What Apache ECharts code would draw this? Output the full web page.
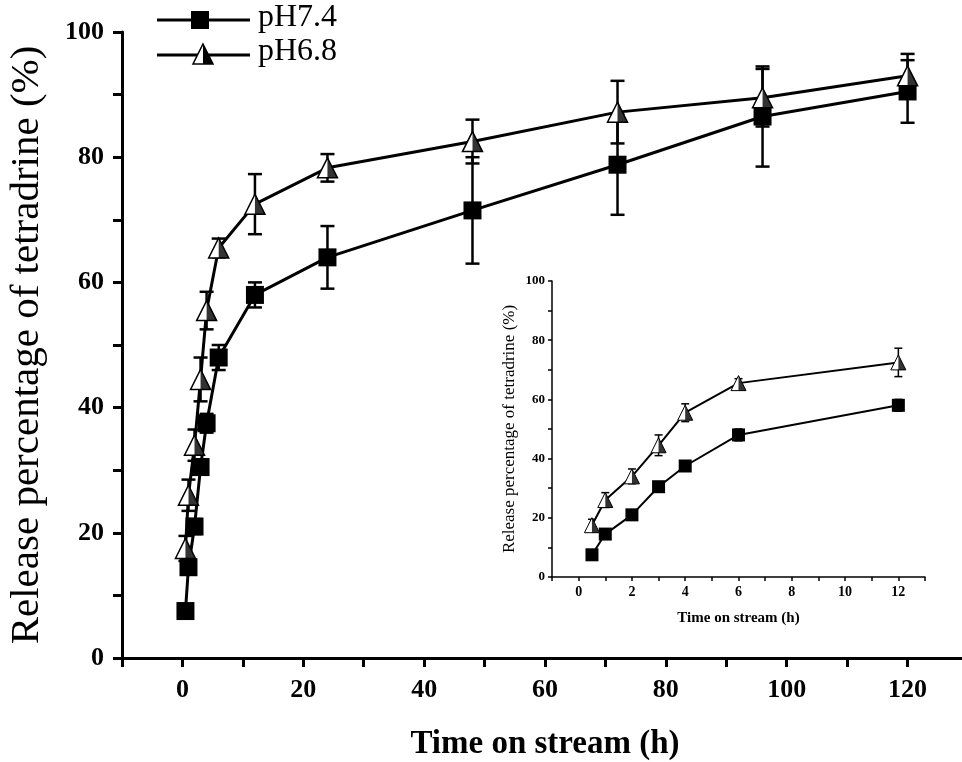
<!DOCTYPE html>
<html>
<head>
<meta charset="utf-8">
<script src="https://cdn.jsdelivr.net/npm/echarts@6/dist/echarts.min.js"></script>
<style>
html,body{margin:0;padding:0;background:#fff;}
#chart{width:962px;height:762px;}
</style>
</head>
<body>
<div id="chart"></div>
<script>
// ---- data ----
const timeH   = [0.5, 1, 2, 3, 4, 6, 12, 24, 48, 72, 96, 120];
const ph74    = [7.5, 14.5, 21, 30.5, 37.5, 48, 58, 64, 71.5, 78.8, 86.5, 90.5];
const ph74Err = [1, 1, 1.2, 1.2, 1.5, 2, 2, 5, 8.5, 8, 8, 5];
const ph68    = [17.5, 26, 34, 44.5, 55.5, 65.5, 72.5, 78.3, 82.5, 87.2, 89.5, 93];
const ph68Err = [2, 2.5, 2.5, 3.5, 3, 1.5, 4.8, 2.2, 3.5, 5, 4.6, 3.5];
const insetCount = 7; // inset shows points up to 12 h
const seriesNames = ['pH7.4', 'pH6.8'];
const yTitle = 'Release percentage of tetradrine (%)';
const xTitle = 'Time on stream (h)';

const SERIF = '"Liberation Serif", "DejaVu Serif", serif';
const TRI = 'path://M10,0L20,20L0,20Z';
const TRI_HALF = 'path://M0,20M10,0L20,20L10,20Z';

function pairs(xs, ys) { return xs.map((x, i) => [x, ys[i]]); }

function errSeries(gi, xs, ys, es, cap, lw) {
  return {
    type: 'custom',
    xAxisIndex: gi, yAxisIndex: gi,
    z: 1,
    silent: true,
    data: xs.map((x, i) => [x, ys[i] - es[i], ys[i] + es[i]]),
    encode: { x: 0, y: [1, 2] },
    renderItem: function (params, api) {
      const x = api.value(0);
      const lo = api.coord([x, api.value(1)]);
      const hi = api.coord([x, api.value(2)]);
      const st = { stroke: '#000', lineWidth: lw };
      return {
        type: 'group',
        children: [
          { type: 'line', shape: { x1: lo[0], y1: lo[1], x2: hi[0], y2: hi[1] }, style: st },
          { type: 'line', shape: { x1: hi[0] - cap / 2, y1: hi[1], x2: hi[0] + cap / 2, y2: hi[1] }, style: st },
          { type: 'line', shape: { x1: lo[0] - cap / 2, y1: lo[1], x2: lo[0] + cap / 2, y2: lo[1] }, style: st }
        ]
      };
    }
  };
}

function lineSeries(gi, name, xs, ys, kind, size, lw) {
  const isTri = kind === 'tri';
  return {
    type: 'line', name: name,
    xAxisIndex: gi, yAxisIndex: gi,
    data: pairs(xs, ys),
    symbol: isTri ? TRI : 'rect',
    symbolSize: size,
    showAllSymbol: true,
    z: 3,
    lineStyle: { color: '#000', width: lw },
    itemStyle: isTri ? { color: '#fff', borderColor: '#000', borderWidth: gi === 0 ? 1.5 : 1 } : { color: '#000', borderWidth: 0 },
    animation: false
  };
}

function halfTri(gi, xs, ys, size) {
  return {
    type: 'scatter',
    xAxisIndex: gi, yAxisIndex: gi,
    data: pairs(xs, ys),
    symbol: TRI_HALF,
    symbolSize: size,
    z: 4,
    silent: true,
    itemStyle: { color: '#000' },
    animation: false
  };
}

const ix = timeH.slice(0, insetCount);
const i74 = ph74.slice(0, insetCount), i74e = ph74Err.slice(0, insetCount);
const i68 = ph68.slice(0, insetCount), i68e = ph68Err.slice(0, insetCount);

const chart = echarts.init(document.getElementById('chart'), null, { renderer: 'canvas' });

const axisBlack = (w) => ({ show: true, onZero: false, lineStyle: { color: '#000', width: w } });

const option = {
  backgroundColor: '#fff',
  animation: false,
  grid: [
    { left: 122, top: 32, right: -6, bottom: 104, containLabel: false, outerBoundsMode: 'none' },
    { left: 552, top: 281, width: 373, height: 296, containLabel: false, outerBoundsMode: 'none' }
  ],
  xAxis: [
    {
      gridIndex: 0, type: 'value', min: -10, max: 130, interval: 10,
      axisLine: axisBlack(3),
      axisTick: { show: true, inside: false, length: 9, lineStyle: { width: 3, color: '#000' } },
      splitLine: { show: false },
      axisLabel: {
        margin: 19, color: '#000', fontFamily: SERIF, fontSize: 26, fontWeight: 'bold',
        formatter: v => (v >= 0 && v <= 120 && v % 20 === 0) ? String(v) : ''
      },
      name: xTitle, nameLocation: 'middle', nameGap: 70,
      nameTextStyle: { color: '#000', fontFamily: SERIF, fontSize: 33, fontWeight: 'bold' }
    },
    {
      gridIndex: 1, type: 'value', min: -1, max: 13, interval: 1,
      axisLine: axisBlack(1.5),
      axisTick: { show: true, inside: false, length: 4, lineStyle: { width: 1.5, color: '#000' } },
      splitLine: { show: false },
      axisLabel: {
        margin: 8, color: '#000', fontFamily: SERIF, fontSize: 14, fontWeight: 'bold',
        formatter: v => (v >= 0 && v <= 12 && v % 2 === 0) ? String(v) : ''
      },
      name: xTitle, nameLocation: 'middle', nameGap: 34,
      nameTextStyle: { color: '#000', fontFamily: SERIF, fontSize: 15, fontWeight: 'bold' }
    }
  ],
  yAxis: [
    {
      gridIndex: 0, type: 'value', min: 0, max: 100, interval: 10,
      axisLine: axisBlack(3),
      axisTick: { show: true, inside: false, length: 9, lineStyle: { width: 3, color: '#000' } },
      splitLine: { show: false },
      axisLabel: {
        margin: 18, color: '#000', fontFamily: SERIF, fontSize: 26, fontWeight: 'bold',
        formatter: v => (v % 20 === 0) ? String(v) : ''
      },
      name: yTitle, nameLocation: 'middle', nameGap: 74, nameRotate: 90,
      nameTextStyle: { color: '#000', fontFamily: SERIF, fontSize: 41 }
    },
    {
      gridIndex: 1, type: 'value', min: 0, max: 100, interval: 10,
      axisLine: axisBlack(1.5),
      axisTick: { show: true, inside: false, length: 4, lineStyle: { width: 1.5, color: '#000' } },
      splitLine: { show: false },
      axisLabel: {
        margin: 7, color: '#000', fontFamily: SERIF, fontSize: 13, fontWeight: 'bold',
        formatter: v => (v % 20 === 0) ? String(v) : ''
      },
      name: yTitle, nameLocation: 'middle', nameGap: 34, nameRotate: 90,
      nameTextStyle: { color: '#000', fontFamily: SERIF, fontSize: 17 }
    }
  ],
  series: [
    errSeries(0, timeH, ph74, ph74Err, 14, 2.5),
    errSeries(0, timeH, ph68, ph68Err, 14, 2.5),
    lineSeries(0, seriesNames[0], timeH, ph74, 'rect', 18, 3),
    lineSeries(0, seriesNames[1], timeH, ph68, 'tri', 20, 3),
    halfTri(0, timeH, ph68, 20),
    errSeries(1, ix, i74, i74e, 8, 1.5),
    errSeries(1, ix, i68, i68e, 8, 1.5),
    lineSeries(1, seriesNames[0], ix, i74, 'rect', 13, 2),
    lineSeries(1, seriesNames[1], ix, i68, 'tri', 15, 2),
    halfTri(1, ix, i68, 15)
  ],
  graphic: [
    { type: 'line', shape: { x1: 157, y1: 20, x2: 250, y2: 20 }, style: { stroke: '#000', lineWidth: 3 } },
    { type: 'rect', shape: { x: 191, y: 11, width: 18, height: 18 }, style: { fill: '#000' } },
    { type: 'text', left: 258, top: 2, style: { text: seriesNames[0], font: '32px ' + SERIF, fill: '#000' } },
    { type: 'line', shape: { x1: 157, y1: 55, x2: 250, y2: 55 }, style: { stroke: '#000', lineWidth: 3 } },
    { type: 'polygon', shape: { points: [[203, 44], [213, 64], [193, 64]] }, style: { fill: '#fff', stroke: '#000', lineWidth: 1.5 } },
    { type: 'polygon', shape: { points: [[203, 44], [213, 64], [203, 64]] }, style: { fill: '#000' } },
    { type: 'text', left: 258, top: 36, style: { text: seriesNames[1], font: '32px ' + SERIF, fill: '#000' } }
  ]
};

chart.setOption(option);
</script>
</body>
</html>
